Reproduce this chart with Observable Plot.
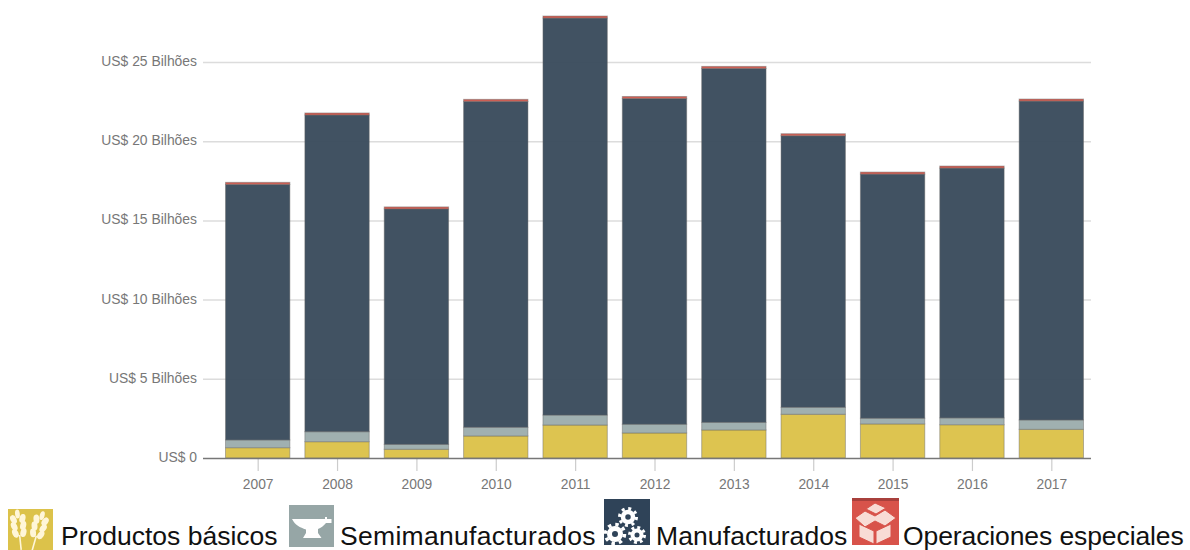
<!DOCTYPE html>
<html lang="pt">
<head>
<meta charset="utf-8">
<title>Exportaciones por categoría</title>
<script src="https://cdn.jsdelivr.net/npm/d3@7"></script>
<script src="https://cdn.jsdelivr.net/npm/@observablehq/plot@0.6"></script>
<style>
  html, body { margin: 0; padding: 0; background: #fff; overflow: hidden; }
  #page { position: relative; width: 1190px; height: 550px; overflow: hidden; }
  #chart svg { display: block; }
  .key-icon { position: absolute; display: block; }
  .key-label {
    position: absolute; font-family: "Liberation Sans", Arial, sans-serif;
    font-size: 26.5px; line-height: 26px; color: #111; white-space: nowrap;
  }
</style>
</head>
<body>
<div id="page">
  <div id="chart"></div>

  <!-- Category key: one small icon tile and one label per series -->
  <svg class="key-icon" style="left:8px;top:509px" width="45" height="41" viewBox="0 0 45 41">
    <rect width="45" height="41" fill="#dcc24a"/>
    <g fill="#fff6d8">
      <g id="ear" transform="rotate(-6 11 20)">
        <ellipse cx="11" cy="5" rx="2.400" ry="4.500"/>
        <ellipse cx="6.500" cy="10" rx="3" ry="4.600" transform="rotate(-20 6.500 10)"/>
        <ellipse cx="15.500" cy="10" rx="3" ry="4.600" transform="rotate(20 15.500 10)"/>
        <ellipse cx="6.500" cy="17" rx="3" ry="4.600" transform="rotate(-20 6.500 17)"/>
        <ellipse cx="15.500" cy="17" rx="3" ry="4.600" transform="rotate(20 15.500 17)"/>
        <ellipse cx="7" cy="24" rx="3" ry="4.600" transform="rotate(-20 7 24)"/>
        <ellipse cx="15" cy="24" rx="3" ry="4.600" transform="rotate(20 15 24)"/>
        <rect x="10.200" y="26" width="1.600" height="15"/>
      </g>
      <use href="#ear" transform="translate(19 1) rotate(22 11 20)"/>
    </g>
  </svg>
  <div class="key-label" style="left:61px;top:523px">Productos básicos</div>

  <svg class="key-icon" style="left:289px;top:505px" width="45" height="42" viewBox="0 0 45 42">
    <rect width="45" height="42" fill="#96a6a6"/>
    <path d="M3 14h33v-2h2v2h4.500v4H37c-2.500 3-5 5-8 6v4l3.500 5H14l3-5v-3.500C11 22.500 6 20 3 14z" fill="#fff"/>
  </svg>
  <div class="key-label" style="left:340px;top:523px;letter-spacing:0.3px">Semimanufacturados</div>

  <svg class="key-icon" style="left:604px;top:499px" width="46" height="46" viewBox="0 0 46 46">
    <rect width="46" height="46" fill="#2f4358"/>
    <g fill="none" stroke="#fff">
      <circle cx="24" cy="18" r="5" stroke-width="4.500"/>
      <circle cx="24" cy="18" r="8.500" stroke-width="3" stroke-dasharray="3 3.670"/>
      <circle cx="11" cy="35" r="5.500" stroke-width="5"/>
      <circle cx="11" cy="35" r="9.500" stroke-width="3.500" stroke-dasharray="3.400 4.060"/>
      <circle cx="33" cy="36" r="4.500" stroke-width="4"/>
      <circle cx="33" cy="36" r="7.500" stroke-width="3" stroke-dasharray="2.900 3"/>
    </g>
  </svg>
  <div class="key-label" style="left:656px;top:523px;letter-spacing:0.1px">Manufacturados</div>

  <svg class="key-icon" style="left:852px;top:498px" width="47" height="47" viewBox="0 0 47 47">
    <rect width="47" height="47" fill="#d8534a"/>
    <rect width="47" height="3" fill="#a8403c"/>
    <g fill="#f8dcd5" stroke="#d8534a" stroke-width="1">
      <path d="M3 20l10-7 10 5 10-6 11 8-11 8-10-5-10 6z"/>
      <path d="M7 26l15 7v13L7 39z"/>
      <path d="M24 33l15-7v13l-15 7z"/>
      <path d="M14 11l9-6 11 5-10 6z"/>
    </g>
  </svg>
  <div class="key-label" style="left:903px;top:523px;letter-spacing:-0.1px">Operaciones especiales</div>
</div>

<script>
// Yearly exports by category, in billions of US dollars
const years = ["2007", "2008", "2009", "2010", "2011", "2012", "2013", "2014", "2015", "2016", "2017"];
const categories = ["Productos básicos", "Semimanufacturados", "Manufacturados", "Operaciones especiales"];
const categoryColors = ["#dcc24a", "#9dadad", "#3b4c5d", "#cf5a4e"];

const basicos = [0.65, 1.03, 0.55, 1.39, 2.08, 1.58, 1.77, 2.76, 2.15, 2.10, 1.81];
const semimanufacturados = [0.49, 0.63, 0.31, 0.55, 0.63, 0.55, 0.48, 0.44, 0.36, 0.43, 0.59];
const manufacturados = [16.13, 19.99, 14.86, 20.57, 25.06, 20.56, 22.34, 17.14, 15.41, 15.77, 20.13];
const especiales = [0.13, 0.13, 0.13, 0.13, 0.13, 0.13, 0.13, 0.13, 0.13, 0.13, 0.13];

const yTicks = [0, 5, 10, 15, 20, 25];
const yTickLabels = ["US$ 0", "US$ 5 Bilhões", "US$ 10 Bilhões", "US$ 15 Bilhões", "US$ 20 Bilhões", "US$ 25 Bilhões"];

const seriesValues = [basicos, semimanufacturados, manufacturados, especiales];
const rows = categories.flatMap((category, c) =>
  years.map((year, i) => ({year, category, value: seriesValues[c][i]}))
);

const chart = Plot.plot({
  width: 1190,
  height: 495,
  marginTop: 10,
  marginBottom: 37,
  marginLeft: 203,
  marginRight: 99,
  style: {fontFamily: '"Liberation Sans", Arial, sans-serif', background: "transparent"},
  x: {type: "band", domain: years, range: [218, 1091], padding: 0, round: false, label: null},
  y: {domain: [0, 28.28], label: null},
  color: {domain: categories, range: categoryColors},
  marks: [
    Plot.ruleY(yTicks.slice(1), {stroke: "#dcdcdc", strokeWidth: 1.5}),
    Plot.axisX({
      anchor: "bottom", tickSize: 13, tickPadding: 8, fontSize: 13.8,
      color: "#777", stroke: "#ccc", strokeWidth: 1.2,
      label: null
    }),
    Plot.axisY({
      ticks: yTicks, tickSize: 0, tickPadding: 6.5, fontSize: 13.9, dy: -1, color: "#777", label: null,
      tickFormat: (d) => yTickLabels[yTicks.indexOf(d)]
    }),
    Plot.barY(rows, {
      x: "year", y: "value", fill: "category", z: "category",
      order: categories, insetLeft: 7.5, insetRight: 7.5,
      fillOpacity: 0.97, stroke: "#666", strokeOpacity: 0.45, strokeWidth: 1
    }),
    Plot.ruleY([0], {stroke: "#777", strokeWidth: 1.5})
  ]
});
document.getElementById("chart").appendChild(chart);
</script>
</body>
</html>
